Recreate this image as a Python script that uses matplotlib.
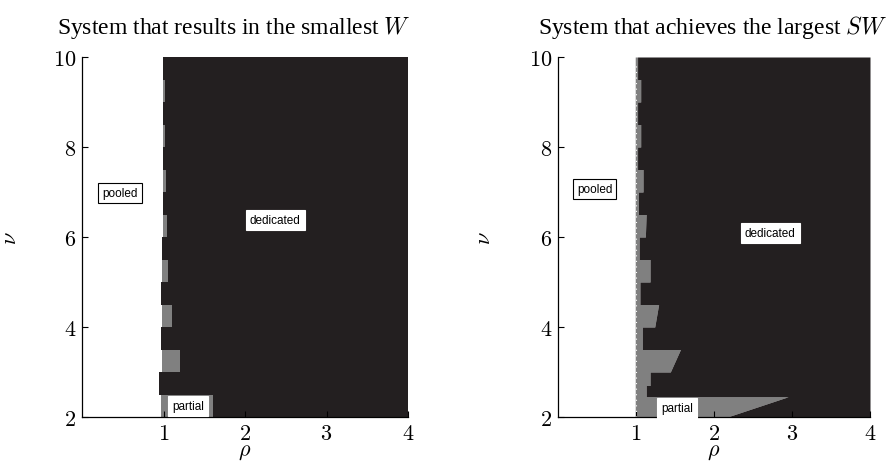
import numpy as np
import matplotlib
matplotlib.use("Agg")
import matplotlib.pyplot as plt

plt.rcParams["mathtext.fontset"] = "cm"

# ---------------- data ----------------
# Each band: nu range [lo, hi]; pooled region ends at pooled_rho (white -> gray/black);
# partial region (gray) extends to dedicated start (rho at band bottom, band top).
left_nu_lo = [2.0, 2.5, 3.0, 3.5, 4.0, 4.5, 5.0, 5.5, 6.0, 6.5, 7.0, 7.5, 8.0, 8.5, 9.0, 9.5]
left_nu_hi = [2.5, 3.0, 3.5, 4.0, 4.5, 5.0, 5.5, 6.0, 6.5, 7.0, 7.5, 8.0, 8.5, 9.0, 9.5, 10.0]
left_pooled_rho = [0.97, 0.94, 0.98, 0.965, 0.98, 0.975, 0.985, 0.98, 0.99, 0.99, 0.99, 0.99, 0.99, 0.99, 0.99, 0.99]
left_ded_lo = [1.61, 0.94, 1.20, 0.965, 1.10, 0.975, 1.06, 0.98, 1.04, 0.99, 1.03, 0.99, 1.02, 0.99, 1.02, 0.99]
left_ded_hi = [1.61, 0.94, 1.20, 0.965, 1.10, 0.975, 1.06, 0.98, 1.04, 0.99, 1.03, 0.99, 1.02, 0.99, 1.02, 0.99]

right_nu_lo = [2.0, 2.45, 2.7, 3.0, 3.5, 4.0, 4.5, 5.0, 5.5, 6.0, 6.5, 7.0, 7.5, 8.0, 8.5, 9.0, 9.5]
right_nu_hi = [2.45, 2.7, 3.0, 3.5, 4.0, 4.5, 5.0, 5.5, 6.0, 6.5, 7.0, 7.5, 8.0, 8.5, 9.0, 9.5, 10.0]
right_pooled_rho = [0.99] * 17
right_ded_lo = [2.17, 1.13, 1.18, 1.44, 1.08, 1.24, 1.05, 1.18, 1.04, 1.12, 1.03, 1.09, 1.02, 1.06, 1.02, 1.06, 1.02]
right_ded_hi = [2.95, 1.13, 1.18, 1.57, 1.08, 1.29, 1.05, 1.18, 1.04, 1.13, 1.03, 1.09, 1.02, 1.06, 1.02, 1.06, 1.02]

titles = ["System that results in the smallest $W$", "System that achieves the largest $SW$"]
x_ticks = [1, 2, 3, 4]
y_ticks = [2, 4, 6, 8, 10]
x_lim = (0, 4)
y_lim = (2, 10)

labels_left = {"pooled": (0.47, 6.98), "dedicated": (2.37, 6.38), "partial": (1.30, 2.25)}
labels_right = {"pooled": (0.47, 7.07), "dedicated": (2.72, 6.09), "partial": (1.53, 2.19)}

BLACK = "#231f20"
GRAY = "#808080"

fig = plt.figure(figsize=(8.96, 4.64), dpi=100)
axL = fig.add_axes([82 / 896, 46 / 464, 326 / 896, 360 / 464])
axR = fig.add_axes([558 / 896, 46 / 464, 312 / 896, 360 / 464])


def profile(nlo, nhi, vlo, vhi):
    nu, rho = [], []
    for lo, hi, a, b in zip(nlo, nhi, vlo, vhi):
        nu += [lo, hi]
        rho += [a, b]
    return np.array(nu), np.array(rho)


def draw(ax, nlo, nhi, pooled, dlo, dhi, title, labels, ylab_x, title_x):
    nu_p, rho_p = profile(nlo, nhi, pooled, pooled)
    nu_d, rho_d = profile(nlo, nhi, dlo, dhi)
    ax.fill_betweenx(nu_d, rho_p, rho_d, color=GRAY, lw=0)
    ax.fill_betweenx(nu_d, rho_d, np.full_like(rho_d, x_lim[1]), color=BLACK, lw=0)
    ax.set_xlim(*x_lim)
    ax.set_ylim(*y_lim)
    for s in ("top", "right"):
        ax.spines[s].set_visible(False)
    for s in ("left", "bottom"):
        ax.spines[s].set_linewidth(0.9)
    ax.set_xticks(x_ticks, labels=[f"${t}$" for t in x_ticks])
    ax.set_yticks(y_ticks, labels=[f"${t}$" for t in y_ticks])
    ax.tick_params(direction="in", length=4, width=0.8, labelsize=16, pad=4)
    ax.set_xlabel(r"$\rho$", fontsize=16)
    ax.xaxis.set_label_coords(0.5, -0.068)
    ax.set_ylabel(r"$\nu$", fontsize=16)
    ax.yaxis.set_label_coords(ylab_x, 0.5)
    ax.set_title(title, fontsize=17, family="Liberation Serif", math_fontfamily="cm", pad=17, x=title_x)
    for name, (x, y) in labels.items():
        ec = "black" if name == "pooled" else "white"
        ax.text(x, y, name, fontsize=8.5, family="Liberation Sans", ha="center", va="center",
                bbox=dict(boxstyle="square,pad=0.35", fc="white", ec=ec, lw=0.8))


draw(axL, left_nu_lo, left_nu_hi, left_pooled_rho, left_ded_lo, left_ded_hi, titles[0], labels_left,
     (20 - 82) / 326, (234 - 82) / 326)
draw(axR, right_nu_lo, right_nu_hi, right_pooled_rho, right_ded_lo, right_ded_hi, titles[1], labels_right,
     (494 - 558) / 312, (712 - 558) / 312)
axR.plot([1.0, 1.0], [2.0, 9.9], color="white", lw=0.8, ls=(0, (1, 4)))

fig.savefig("out.png", dpi=100)
